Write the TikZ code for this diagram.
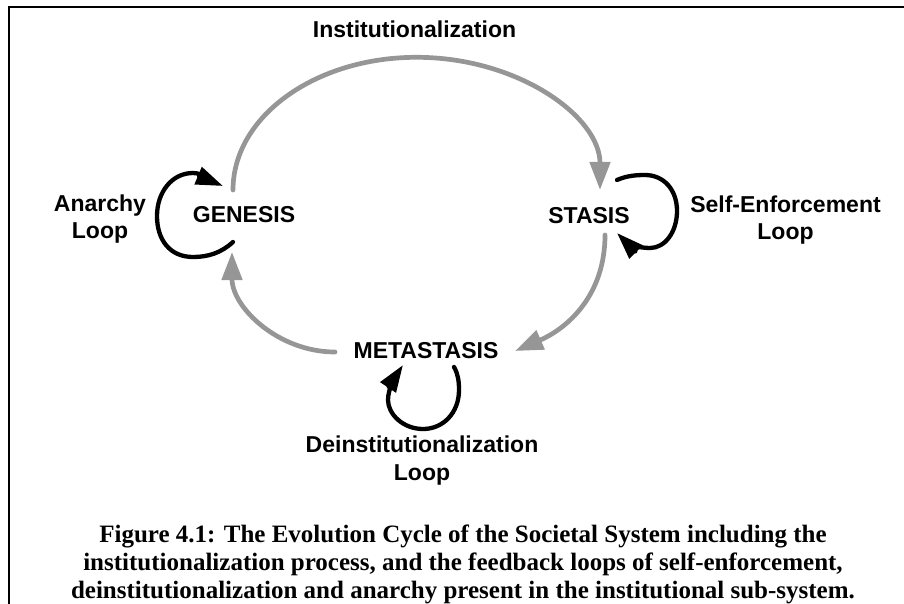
\documentclass[tikz,border=0pt]{standalone}
\usepackage{fontspec}
\setmainfont{Liberation Serif}
\newfontfamily\labelfont{Liberation Sans}
\usetikzlibrary{arrows.meta}
\definecolor{cyclegray}{RGB}{150,150,150}

\begin{document}
\begin{tikzpicture}[x=1pt,y=-1pt,
  lbl/.style={font=\labelfont\bfseries\fontsize{23}{27.5}\selectfont,
              inner sep=0pt, anchor=base, align=center},
  capstyle/.style={font=\bfseries\fontsize{25}{28}\selectfont,
              inner sep=0pt, anchor=base, align=center},
  flow/.style={draw=cyclegray, line width=4.7pt, line cap=round,
              -{Triangle[length=28pt,width=20pt]}},
  feedback/.style={draw=black, line width=4.3pt, line cap=round,
              -{Triangle[length=27pt,width=18pt]}},
  frameline/.style={draw=black, line width=2pt}]

\useasboundingbox (0,0) rectangle (904,604);

% open frame: top and left edges only
\coordinate (fr-tl) at (8.8,6.8);
\coordinate (fr-tr) at (904,6.8);
\coordinate (fr-bl) at (8.8,604);
\draw[frameline] (fr-tr) -- (fr-tl) -- (fr-bl);

% states and labels (base = baseline of the last line)
\node[lbl] (inst)    at (414.5,37.3) {Institutionalization};
\node[lbl] (gen)     at (244,222)    {GENESIS};
\node[lbl] (sta)     at (589,223)    {STASIS};
\node[lbl] (meta)    at (426,358)    {METASTASIS};
\node[lbl] (anarchy) at (100,238.5)  {Anarchy\\Loop};
\node[lbl] (selfenf) at (785.5,239.5) {Self-Enforcement\\Loop};
\node[lbl] (deinst)  at (422,480)    {Deinstitutionalization\\Loop};

\node[capstyle] (cap) at (463,598)
  {Figure 4.1: The Evolution Cycle of the Societal System including the\\
   institutionalization process, and the feedback loops of self-enforcement,\\
   deinstitutionalization and anarchy present in the institutional sub-system.};

% end points of the connectors, placed around the state labels
\coordinate (g-out)  at ([shift={(-11,-32)}]gen.base);
\coordinate (g-in)   at ([shift={(-12,30)}]gen.base);
\coordinate (g-ls)   at ([shift={(-11,20)}]gen.base);
\coordinate (g-le)   at ([shift={(-21,-36)}]gen.base);
\coordinate (s-in)   at ([shift={(11,-33)}]sta.base);
\coordinate (s-out)  at ([shift={(16,12)}]sta.base);
\coordinate (s-ls)   at ([shift={(28,-43)}]sta.base);
\coordinate (s-le)   at ([shift={(28,10)}]sta.base);
\coordinate (m-in)   at ([shift={(89,-7)}]meta.base);
\coordinate (m-out)  at ([shift={(-91,-6)}]meta.base);
\coordinate (m-ls)   at ([shift={(28,9)}]meta.base);
\coordinate (m-le)   at ([shift={(-23,7)}]meta.base);
\coordinate (i-top)  at ([shift={(2,20)}]inst.base);

% main cycle
\draw[flow] (g-out) .. controls +(0,-73.5) and +(-101.3,0) .. (i-top)
                    .. controls +(101.3,0) and +(0,-73.5) .. (s-in);
\draw[flow] (s-out) .. controls +(0,60) and +(53,-23) .. (m-in);
\draw[flow] (m-out) .. controls +(-56.9,0) and +(0,55.2) .. (g-in);

% feedback loops
\draw[feedback] (g-ls) .. controls (221,253) and (208,257) .. (193,257)
                       .. controls (170,257) and (157,240) .. (157,216)
                       .. controls (157,192) and (172,173) .. (193,173)
                       .. controls (203,173) and (211,181) .. (g-le);
\draw[feedback] (s-ls) .. controls (626,176) and (635,175) .. (645,175)
                       .. controls (664,175) and (677,190) .. (677,211)
                       .. controls (677,232) and (665,248) .. (650,248)
                       .. controls (640,248) and (628,244) .. (s-le);
\draw[feedback] (m-ls) .. controls (458,374) and (459,381) .. (459,390)
                       .. controls (459,413) and (443,429) .. (423,429)
                       .. controls (403,429) and (388,414) .. (388,400)
                       .. controls (388,388) and (397,374) .. (m-le);
\end{tikzpicture}
\end{document}
